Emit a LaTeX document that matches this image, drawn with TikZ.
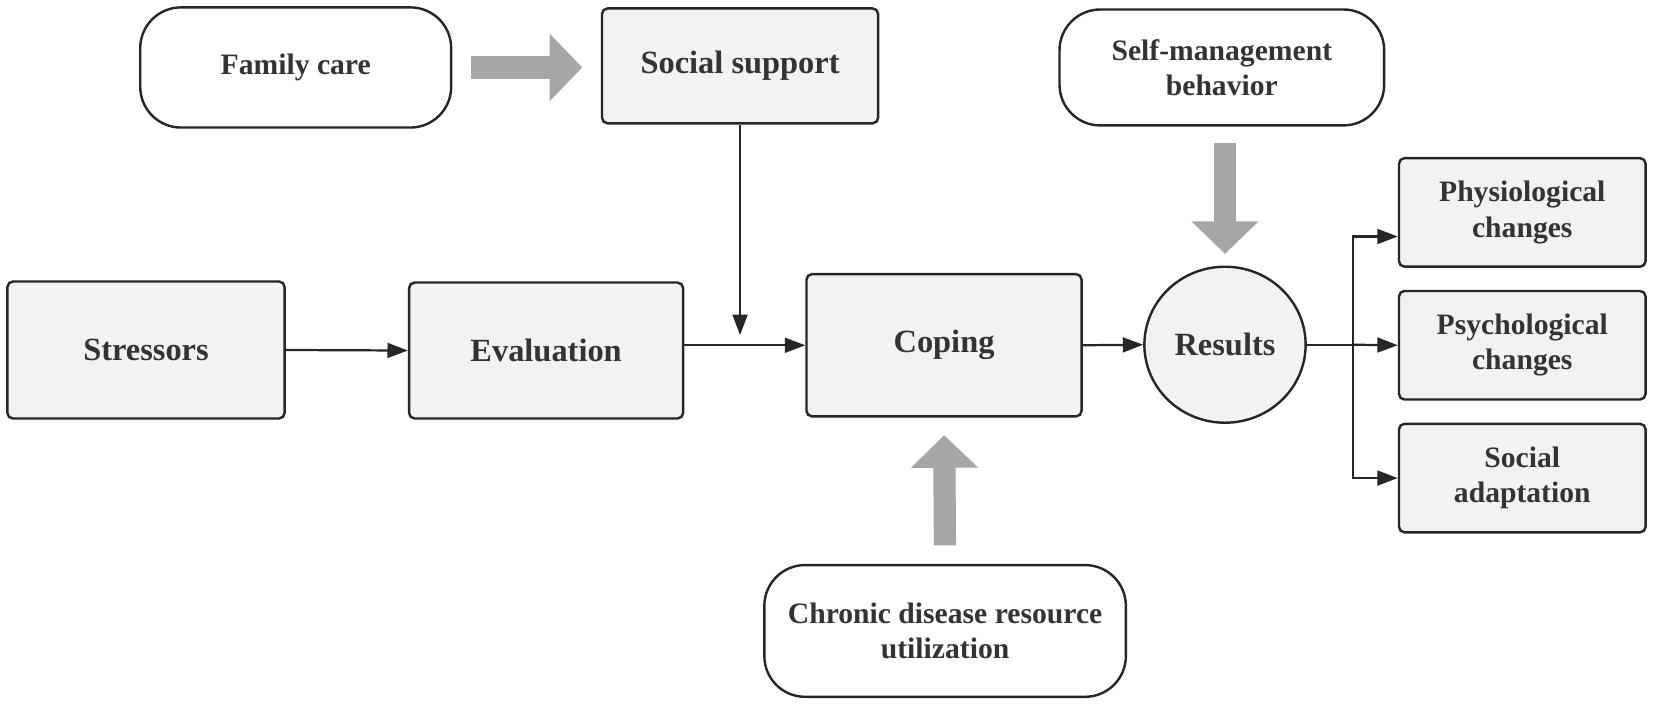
\documentclass[tikz,border=0pt]{standalone}
\usepackage{fontspec}
\setmainfont{Liberation Serif}
\usepackage{xcolor}
\usepackage{tikz}
\usetikzlibrary{arrows.meta,shapes.geometric}
\definecolor{boxfill}{HTML}{F2F2F2}
\definecolor{boxline}{HTML}{262626}
\definecolor{txtgray}{HTML}{333333}
\definecolor{bulkgray}{HTML}{A6A6A6}

\begin{document}
\begin{tikzpicture}[x=0.02cm,y=-0.02cm,
    stage/.style={draw=boxline,line width=1.3pt,fill=boxfill,rounded corners=3pt,
      text=txtgray,font=\bfseries\fontsize{17.5}{21}\selectfont,align=center,inner sep=0pt},
    factor/.style={draw=boxline,line width=1.3pt,fill=white,rounded corners=22pt,
      text=txtgray,font=\bfseries\fontsize{16}{19}\selectfont,align=center,inner sep=0pt},
    outcome/.style={stage,font=\bfseries\fontsize{16}{19}\selectfont,
      minimum width=4.68cm,minimum height=2.06cm},
    link/.style={draw=boxline,line width=1.2pt,-{Triangle[length=11pt,width=8pt]}},
    bulk/.style={draw=bulkgray,line width=12pt,-{Triangle[length=17.6pt,width=35.3pt]}}]
      \useasboundingbox (0,0) rectangle (1568,668);
      \begin{scope}
        \node[factor,minimum width=5.9cm,minimum height=2.28cm] (family) at (280.5,64) {Family care};
        \node[stage,minimum width=5.24cm,minimum height=2.18cm] (social) at (702,62.5) {Social support};
        \node[factor,minimum width=6.16cm,minimum height=2.2cm] (selfmgmt) at (1159,64) {Self-management\\behavior};
      \end{scope}
      \begin{scope}
        \node[stage,minimum width=5.26cm,minimum height=2.6cm] (stressors) at (138.5,332) {Stressors};
        \node[stage,minimum width=5.2cm,minimum height=2.58cm] (evaluation) at (518,332.5) {Evaluation};
        \node[stage,minimum width=5.22cm,minimum height=2.7cm] (coping) at (895.5,327.5) {Coping};
        \node[stage,ellipse,minimum width=3.06cm,minimum height=2.96cm] (results) at (1162,327) {Results};
        \node[factor,minimum width=6.86cm,minimum height=2.5cm] (chronic) at (896.5,598.5) {Chronic disease resource\\utilization};
      \end{scope}
      \begin{scope}
        \node[outcome] (physio) at (1444,201.5) {Physiological\\changes};
        \node[outcome] (psycho) at (1444,327.5) {Psychological\\changes};
        \node[outcome] (adapt) at (1444,453.5) {Social\\adaptation};
      \end{scope}
      \draw[link] (stressors.east) -- (evaluation.west);
      \coordinate (join) at (social.south |- coping.west);
      \draw[link] (evaluation.east |- coping.west) -- (coping.west);
      \draw[link,shorten >=5.5pt] (social.south) -- (join);
      \draw[link] (coping.east) -- (results.west);
      \coordinate (fork) at ([xshift=25pt]results.east);
      \draw[draw=boxline,line width=1.2pt] (results.east) -- (fork);
      \draw[link] (fork) |- ([yshift=-13pt]physio.west);
      \draw[link] (fork) -- (psycho.west);
      \draw[link] (fork) |- (adapt.west);
      \draw[bulk,shorten <=10pt,shorten >=10pt] (family.east) -- (family.east -| social.west);
      \draw[bulk,shorten <=9pt,shorten >=6.3pt] (results.north |- selfmgmt.south) -- (results.north);
      \draw[bulk,shorten <=10pt,shorten >=9.5pt] (chronic.north) -- (coping.south);
    \end{tikzpicture}
\end{document}
